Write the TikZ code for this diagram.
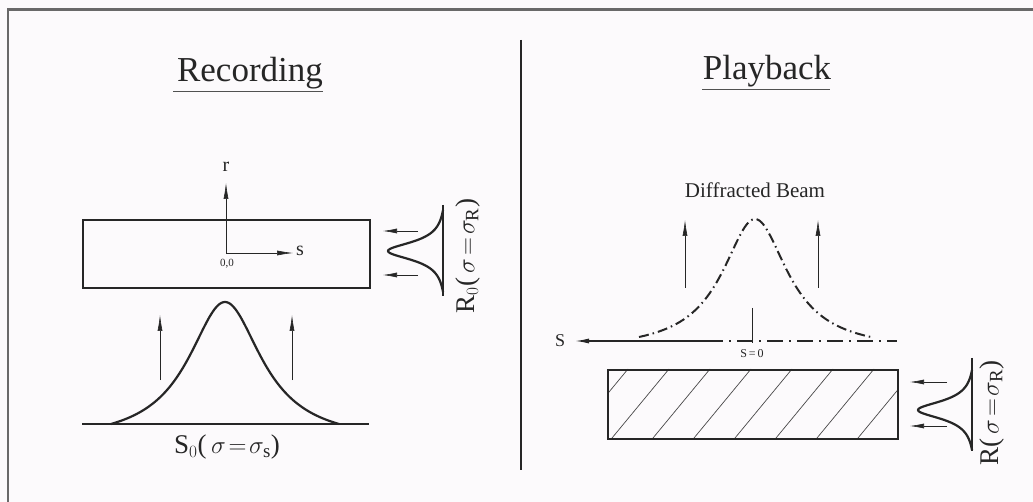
\documentclass[tikz,border=0pt]{standalone}
\usepackage{fontspec}
\setmainfont{Liberation Serif}
\usetikzlibrary{arrows.meta}
\definecolor{ink}{RGB}{38,38,38}
\definecolor{bg}{RGB}{252,250,252}
\definecolor{frame}{RGB}{105,105,105}
\tikzset{
  thickline/.style={line width=2.2pt, draw=ink},
  thinarrow/.style={line width=0.6pt, draw=ink, -{Latex[length=16pt,width=5pt]}},
  refarrow/.style={line width=0.6pt, draw=ink, -{Latex[length=14pt,width=5pt]}},
  lbl/.style={text=ink, inner sep=0pt},
  boxstyle/.style={draw=ink, line width=2.2pt, inner sep=0pt, anchor=north west},
  dashdot/.style={line width=2pt, draw=ink, dash pattern=on 10pt off 4pt on 1.5pt off 4pt},
}
\newcommand{\titlefont}{\fontsize{35}{40}\selectfont}
\newcommand{\labfont}{\fontsize{27}{30}\selectfont}
\begin{document}
\begin{tikzpicture}[x=1pt,y=-1pt]
\fill[bg] (0,0) rectangle (1033,502);
\useasboundingbox (0,0) rectangle (1033,502);
% frame
\draw[line width=2.5pt, frame] (8,502) -- (8,9.5) -- (1033,9.5);
% divider
\coordinate (divtop) at (521,40);
\coordinate (divbot) at (521,470);
\draw[line width=1.2pt, ink] (divtop) -- (divbot);

% ===== Recording =====
\node[lbl, anchor=base] (rectitle) at (250,82) {\titlefont Recording};
\draw[line width=0.8pt, ink!80] (173,91) -- (323,91);

\node[boxstyle, minimum width=287pt, minimum height=68pt] (recbox) at (82,219) {};
\coordinate (o) at (226,253);
\coordinate (rtip) at (226,183);
\coordinate (stip) at (293,253);
\draw[thinarrow] (o) -- (rtip);
\draw[thinarrow] (o) -- (stip);
\node[lbl, font=\fontsize{20}{22}\selectfont] (rlab) at (226,167) {r};
\node[lbl, font=\fontsize{20}{22}\selectfont, anchor=west] (slab) at (296,251) {s};
\node[lbl, font=\fontsize{11}{12}\selectfont] (origin) at (227,264) {0,0};

% bottom beam S0
\coordinate (base1) at (82,424);
\coordinate (base2) at (369,424);
\draw[thickline] (base1) -- (base2);
\draw[thickline] plot[domain=-114:114, samples=181, smooth] ({225+\x}, {424-122*(1/(1+(\x/45)^2)-0.1348)/0.8652});
\coordinate (ua1) at (160,380); \coordinate (ub1) at (160,315);
\coordinate (ua2) at (292,380); \coordinate (ub2) at (292,315);
\draw[thinarrow] (ua1) -- (ub1);
\draw[thinarrow] (ua2) -- (ub2);
\node[lbl, font=\labfont] (s0lab) at (227,447) {S$_0$(\,$\sigma\!=\!\sigma_{\mathrm s}$)};

% reference beam R0
\coordinate (r0a) at (443,205);
\coordinate (r0b) at (443,296);
\draw[thickline] (r0a) -- (r0b);
\draw[thickline] plot[domain=-41:41, samples=161, smooth] ({443-55*(1/(1+(\x/11)^2)-0.0672)/0.9328}, {251+\x});
\coordinate (ra1) at (418,231); \coordinate (rb1) at (383,231);
\coordinate (ra2) at (418,275); \coordinate (rb2) at (383,275);
\draw[refarrow] (ra1) -- (rb1);
\draw[refarrow] (ra2) -- (rb2);
\node[lbl, font=\labfont, rotate=90] (r0lab) at (468,256) {R$_0$(\,$\sigma\!=\!\sigma_{\mathrm R}$)};

% ===== Playback =====
\node[lbl, anchor=base] (pbtitle) at (767,80) {\titlefont Playback};
\draw[line width=0.8pt, ink!80] (702,89.5) -- (830,89.5);
\node[lbl, font=\fontsize{21}{24}\selectfont] (diff) at (755,190) {Diffracted Beam};

\coordinate (pa1) at (685,288); \coordinate (pb1) at (685,220);
\coordinate (pa2) at (818,288); \coordinate (pb2) at (818,220);
\draw[thinarrow] (pa1) -- (pb1);
\draw[thinarrow] (pa2) -- (pb2);

\draw[dashdot] plot[domain=-116:116, samples=181, smooth] ({755+\x}, {337-118*(1/(1+(\x/40)^2)-0.1062)/0.8938});

% axis
\coordinate (axmid) at (707,341);
\coordinate (axtip) at (575,341);
\coordinate (axend) at (897,341);
\draw[line width=1.3pt, ink, -{Latex[length=14pt,width=5pt]}] (axmid) -- (axtip);
\draw[line width=1.3pt, ink, dash pattern=on 16pt off 6pt on 2pt off 6pt] (axmid) -- (axend);
\node[lbl, font=\fontsize{18}{20}\selectfont] (Slab) at (560,341) {S};
\coordinate (z0) at (752,308);
\coordinate (z1) at (752,343);
\draw[line width=0.6pt, ink] (z0) -- (z1);
\node[lbl, font=\fontsize{12}{13}\selectfont] (s0) at (752,354) {S\,=\,0};

% hatched hologram
\node[boxstyle, minimum width=290pt, minimum height=69pt] (hbox) at (607,369) {};
\begin{scope}
\clip (607,369) rectangle (897,438);
\foreach \i in {0,...,8} {
  \draw[line width=0.7pt, ink!85] ({571+41*\i},438) -- ({628+41*\i},369);
}
\end{scope}
\node[boxstyle, minimum width=290pt, minimum height=69pt] at (607,369) {};

% reference beam R
\coordinate (ra) at (972,358);
\coordinate (rb) at (972,451);
\draw[thickline] (ra) -- (rb);
\draw[thickline] plot[domain=-40:40, samples=161, smooth] ({972-54*(1/(1+(\x/11)^2)-0.0703)/0.9297}, {410+\x});
\coordinate (qa1) at (947,382); \coordinate (qb1) at (910,382);
\coordinate (qa2) at (947,426); \coordinate (qb2) at (910,426);
\draw[refarrow] (qa1) -- (qb1);
\draw[refarrow] (qa2) -- (qb2);
\node[lbl, font=\labfont, rotate=90] (rlab2) at (992,413) {R(\,$\sigma\!=\!\sigma_{\mathrm R}$)};
\end{tikzpicture}
\end{document}
